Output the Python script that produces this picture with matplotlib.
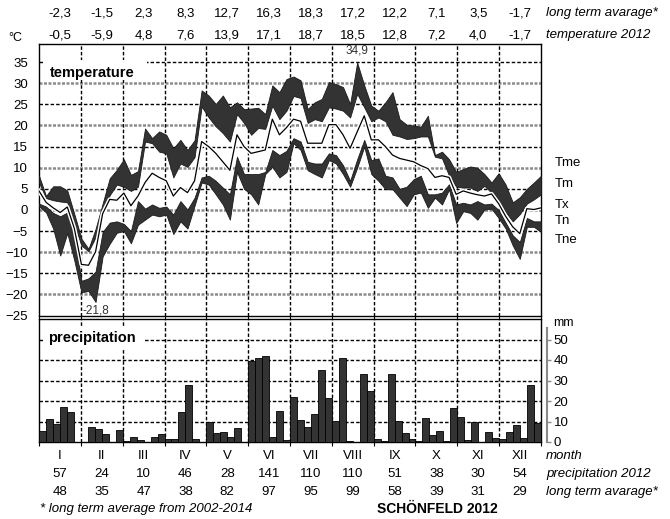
import matplotlib
matplotlib.use('Agg')
import matplotlib.pyplot as plt
import matplotlib.patheffects as pe
from matplotlib.patches import Rectangle
from matplotlib.transforms import blended_transform_factory
import numpy as np

plt.rcParams['font.family'] = ['Liberation Sans', 'DejaVu Sans']

# monthly table values
months = ['I', 'II', 'III', 'IV', 'V', 'VI', 'VII', 'VIII', 'IX', 'X', 'XI', 'XII']
temp_long_term = [-2.3, -1.5, 2.3, 8.3, 12.7, 16.3, 18.3, 17.2, 12.2, 7.1, 3.5, -1.7]
temp_2012 = [-0.5, -5.9, 4.8, 7.6, 13.9, 17.1, 18.7, 18.5, 12.8, 7.2, 4.0, -1.7]
prec_2012 = [57, 24, 10, 46, 28, 141, 110, 110, 51, 38, 30, 54]
prec_long_term = [48, 35, 47, 38, 82, 97, 95, 99, 58, 39, 31, 29]

# pentad temperatures (6 pentads per month)
t_max_ext = [8.1, 3.3, 5.6, 5.6, 4.6, -1.0, -6.8, -9.2, -4.5, 1.5, 7.5, 9.5,
             12.0, 8.3, 9.2, 19.3, 17.0, 18.6, 17.8, 14.6, 16.6, 14.2, 16.5, 28.3,
             27.1, 25.1, 27.1, 24.3, 25.5, 23.9, 24.0, 24.2, 22.7, 29.5, 27.9, 31.0,
             31.6, 30.7, 23.9, 25.5, 26.3, 30.3, 29.8, 29.1, 25.1, 34.9, 29.5, 24.7,
             23.5, 25.5, 27.9, 21.5, 20.2, 20.0, 19.7, 22.3, 13.0, 13.8, 12.0, 9.0,
             9.7, 10.3, 10.0, 8.5, 6.5, 8.7, 6.0, 1.8, 3.0, 5.0, 6.5, 8.1]
t_max = [6.5, 2.8, 2.3, 2.0, 1.8, -3.5, -8.4, -9.8, -6.5, -0.5, 3.5, 6.0,
         5.5, 4.5, 5.5, 16.2, 15.8, 13.8, 13.4, 7.7, 11.0, 10.2, 12.5, 24.5,
         21.9, 19.8, 18.2, 16.2, 22.7, 20.6, 17.8, 19.4, 19.2, 24.7, 21.5, 23.5,
         27.0, 26.5, 20.6, 21.5, 21.0, 24.3, 24.0, 23.5, 21.9, 27.5, 24.3, 21.0,
         21.9, 21.0, 17.8, 17.4, 16.8, 17.0, 17.4, 17.4, 12.6, 12.2, 8.1, 5.5,
         5.3, 5.3, 4.5, 5.7, 4.1, 2.4, -0.5, -2.7, -1.0, 1.5, 2.5, 3.7]
t_mean = [4.5, 1.8, 0.5, -0.6, 0.7, -4.4, -12.9, -13.1, -9.9, -0.9, 2.5, 2.3,
          4.0, 1.0, 3.3, 6.5, 8.7, 7.7, 6.9, 3.3, 5.3, 4.1, 6.9, 16.2,
          15.0, 13.4, 11.4, 9.4, 17.8, 15.0, 13.4, 13.8, 14.2, 21.5, 17.8, 19.5,
          21.5, 21.0, 15.8, 15.8, 15.8, 20.2, 20.2, 17.8, 14.6, 18.5, 22.3, 16.6,
          16.6, 15.0, 13.0, 12.2, 11.8, 11.4, 10.5, 9.8, 7.7, 8.1, 7.7, 3.7,
          4.5, 4.0, 3.6, 3.3, 3.8, 1.5, -1.5, -4.0, -5.6, 0.3, 0.1, 0.5]
t_min = [1.5, 0.8, -0.7, -1.5, -0.6, -6.0, -16.8, -16.2, -14.6, -5.2, -3.0, -2.7,
         -3.3, -5.0, 2.1, 0.3, 1.3, 0.5, 0.8, -1.1, 2.1, 0.1, 2.9, 7.7,
         8.1, 6.9, 5.3, 3.7, 12.6, 8.5, 8.5, 8.5, 9.0, 14.2, 13.0, 14.0,
         17.0, 16.2, 11.4, 11.0, 11.0, 13.4, 13.0, 10.6, 6.9, 12.0, 16.6, 11.8,
         12.2, 8.1, 7.7, 5.0, 5.5, 7.3, 8.1, 3.7, 3.7, 4.1, 6.1, 1.3,
         1.7, 1.3, 2.1, 1.3, 1.5, 0.0, -3.0, -6.0, -7.6, -1.9, -2.7, -2.7]
t_min_ext = [0.9, -0.6, -4.4, -10.8, -5.5, -12.0, -19.5, -19.2, -21.8, -11.0, -8.0, -5.4,
             -5.0, -7.9, -3.5, -2.3, -1.1, -1.5, -1.1, -5.7, -2.7, -4.4, 1.0, 6.5,
             6.0, 3.7, 1.3, -2.3, 9.0, 5.0, 3.7, 1.3, 8.5, 10.2, 7.7, 9.0,
             15.8, 14.2, 9.4, 8.5, 7.7, 11.8, 11.0, 8.5, 5.5, 10.0, 15.0, 8.5,
             6.9, 4.9, 4.9, 2.9, 0.9, 3.7, 4.1, 0.5, 2.9, 1.3, 4.9, -3.1,
             -0.3, -0.7, -2.3, 0.1, 0.3, -1.9, -4.4, -8.4, -11.6, -4.0, -4.0, -5.2]

# pentad precipitation sums (mm)
prec_pentad = [5.5, 11.0, 9.0, 17.0, 14.5, 0.0,
               0.0, 7.5, 6.5, 4.0, 0.0, 6.0,
               0.5, 2.3, 1.0, 0.0, 2.2, 4.0,
               1.3, 1.3, 14.5, 27.6, 1.3, 0.0,
               9.7, 4.3, 5.0, 2.2, 6.8, 0.0,
               39.5, 41.0, 42.0, 2.3, 15.2, 1.0,
               22.0, 10.7, 7.4, 13.6, 35.0, 21.3,
               10.3, 41.2, 0.5, 0.0, 33.3, 24.7,
               1.4, 0.3, 33.0, 10.3, 4.4, 1.6,
               0.3, 11.7, 3.6, 5.5, 0.3, 16.6,
               12.2, 1.0, 9.8, 0.2, 4.7, 2.1,
               1.4, 5.0, 8.3, 2.0, 28.0, 9.3]

W, H = 670, 519


def fx(px):
    return px / W


def fy(py):
    return 1 - py / H


def comma(v):
    return f'{v:.1f}'.replace('.', ',')


fig = plt.figure(figsize=(W / 100, H / 100), dpi=100)
ax_t = fig.add_axes([fx(39), fy(315.5), (541 - 39) / W, (315.5 - 44) / H])
ax_p = fig.add_axes([fx(39), fy(442), (541 - 39) / W, (442 - 319) / H])

n = len(t_mean)
x_line = np.linspace(0, n, n)
x_bar = np.arange(n) + 0.5
dark = '#333333'
grid_black = dict(color='black', lw=1.0, ls=(0, (2.5, 1.5)), zorder=1)
grid_gray = dict(color='#8c8c8c', lw=1.8, ls=(0, (1.2, 0.6)), zorder=1)

# ---- temperature panel ----
ax_t.fill_between(x_line, t_max_ext, t_max, facecolor=dark, edgecolor='#1a1a1a', lw=0.6, zorder=3)
ax_t.fill_between(x_line, t_min, t_min_ext, facecolor=dark, edgecolor='#1a1a1a', lw=0.6, zorder=3)
ax_t.plot(x_line, t_mean, color='black', lw=0.9, zorder=4,
          path_effects=[pe.Stroke(linewidth=3.0, foreground='white'), pe.Normal()])

for v in range(-20, 40, 5):
    ax_t.axhline(v, **(grid_gray if v % 10 == 0 else grid_black))
for k in range(1, 12):
    ax_t.axvline(6 * k, **grid_black)

ax_t.set_xlim(0, n)
ax_t.set_ylim(-25, 39.3)
ax_t.set_yticks(range(-25, 40, 5))
ax_t.tick_params(axis='y', length=0, pad=8, labelsize=9.5)
ax_t.set_xticks(range(0, n + 1, 6))
ax_t.tick_params(axis='x', length=3, labelbottom=False)
for s in ax_t.spines.values():
    s.set_linewidth(1.0)

i_hi = int(np.argmax(t_max_ext))
i_lo = int(np.argmin(t_min_ext))
ax_t.annotate(comma(t_max_ext[i_hi]), (x_line[i_hi], t_max_ext[i_hi]), xytext=(0, 8.4),
              textcoords='offset points', ha='center', va='center', fontsize=8.5, color='#333333')
ax_t.annotate(comma(t_min_ext[i_lo]), (x_line[i_lo], t_min_ext[i_lo]), xytext=(0, -6),
              textcoords='offset points', ha='center', va='center', fontsize=8.5, color='#333333')

# ---- precipitation panel ----
ax_p.bar(x_bar, prec_pentad, width=1.0, color=dark, edgecolor='black', lw=0.6, zorder=3)
for v in range(10, 60, 10):
    ax_p.axhline(v, **grid_black)
for k in range(1, 12):
    ax_p.axvline(6 * k, **grid_black)
ax_p.set_xlim(0, n)
ax_p.set_ylim(0, 60)
ax_p.set_yticks([])
ax_p.set_xticks(range(0, n + 1, 6))
ax_p.tick_params(axis='x', length=3, labelbottom=False)
for s in ax_p.spines.values():
    s.set_linewidth(1.0)

ax_r = ax_p.twinx()
ax_r.set_ylim(0, 60)
ax_r.set_yticks(range(0, 60, 10))
for name in ('left', 'top', 'bottom'):
    ax_r.spines[name].set_visible(False)
ax_r.spines['right'].set_position(('outward', 4))
ax_r.spines['right'].set_color('#8a8a8a')
ax_r.spines['right'].set_linewidth(1.5)
ax_r.spines['right'].set_bounds(0, 55.5)
ax_r.tick_params(axis='y', length=3, width=1, color='#8a8a8a', pad=2, labelsize=9.5)

# ---- panel titles with white boxes ----
fig.patches.append(Rectangle((fx(43), fy(80)), (147 - 43) / W, 20 / H,
                             transform=fig.transFigure, fc='white', ec='none', zorder=2))
fig.text(fx(50), fy(73), 'temperature', fontsize=10.5, fontweight='bold', va='center', zorder=3)
fig.patches.append(Rectangle((fx(43), fy(349)), (145 - 43) / W, 22 / H,
                             transform=fig.transFigure, fc='white', ec='none', zorder=2))
fig.text(fx(48), fy(338), 'precipitation', fontsize=10.5, fontweight='bold', va='center', zorder=3)

# ---- unit labels and series names ----
fig.text(fx(8), fy(38), '°C', fontsize=9, va='center')
fig.text(fx(553), fy(323), 'mm', fontsize=9, va='center')
for name, yy in zip(['Tme', 'Tm', 'Tx', 'Tn', 'Tne'], [163, 184, 205, 221, 240]):
    fig.text(fx(555), fy(yy), name, fontsize=9.5, va='center')

# ---- table rows ----
tr = blended_transform_factory(ax_p.transData, fig.transFigure)
centers = [6 * k + 3 for k in range(12)]
rows_top = [(temp_long_term, 13), (temp_2012, 35)]
for vals, yy in rows_top:
    for c, v in zip(centers, vals):
        fig.text(c, fy(yy), comma(v), transform=tr, ha='center', va='center', fontsize=9.5)
for c, m, p, q in zip(centers, months, prec_2012, prec_long_term):
    fig.text(c, fy(456), m, transform=tr, ha='center', va='center', fontsize=9.5)
    fig.text(c, fy(474), str(p), transform=tr, ha='center', va='center', fontsize=9.5)
    fig.text(c, fy(492), str(q), transform=tr, ha='center', va='center', fontsize=9.5)

right_labels = [('long term avarage*', 13), ('temperature 2012', 35), ('month', 456),
                ('precipitation 2012', 474), ('long term avarage*', 492)]
for txt, yy in right_labels:
    fig.text(fx(546), fy(yy), txt, fontsize=9.5, style='italic', va='center')

fig.text(fx(40), fy(509), '* long term average from 2002-2014', fontsize=9.5, style='italic', va='center')
fig.text(fx(437), fy(509), 'SCHÖNFELD 2012', fontsize=10, fontweight='bold', ha='center', va='center')

fig.savefig('out.png', dpi=100)
